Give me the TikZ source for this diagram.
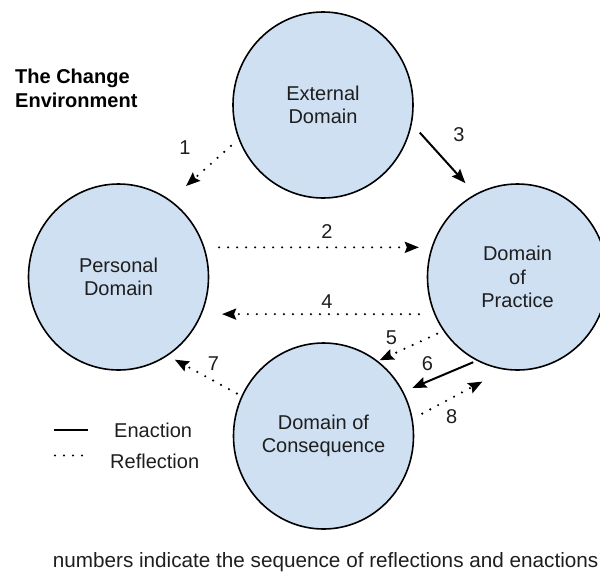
\documentclass[tikz,border=0pt]{standalone}
\usepackage{fontspec}
\setmainfont{Liberation Sans}
\usepackage{tikz}
\usetikzlibrary{shapes.geometric, arrows.meta}
\definecolor{domainfill}{RGB}{207,224,243}
\definecolor{ink}{RGB}{30,30,30}
\tikzstyle{domainbox} = [ellipse, minimum width=180pt, minimum height=186pt, inner sep=0pt, draw=black, line width=1.6pt, fill=domainfill, text=ink, align=center, font=\fontsize{20}{23.5}\selectfont]
\tikzstyle{num} = [inner sep=0pt, text=ink, font=\fontsize{20}{23.5}\selectfont]
\tikzstyle{enaction} = [line width=2pt, -{Stealth[length=14pt,width=11pt,inset=2pt]}]
\tikzstyle{reflection} = [line width=2.4pt, line cap=round, dash pattern=on 0pt off 9pt, -{Stealth[length=14pt,width=11pt,inset=2pt]}]

\begin{document}
\begin{tikzpicture}[x=1pt, y=-1pt]
   \useasboundingbox (0,0) rectangle (600,571);
   \clip (0,0) rectangle (600,571);
   % the four domains
   \node (ext) [domainbox] at (323,105) {External\\Domain};
   \node (pd) [domainbox] at (118.5,277) {Personal\\Domain};
   \node (dp) [domainbox] at (517.5,277) {Domain\\of\\Practice};
   \node (dc) [domainbox] at (323.5,436) {Domain of\\Consequence};
   \node (title) [anchor=west, align=left, inner sep=0pt, font=\bfseries\fontsize{20}{23.5}\selectfont] at (15,88.3) {The Change\\Environment};
   % reflections and enactions
   \draw [reflection, shorten <=10pt, shorten >=21pt] (ext.202) -- (pd.56);
   \draw [reflection, shorten <=14.5pt, shorten >=12.5pt] (pd.19) -- (dp.161);
   \draw [enaction, shorten <=11.7pt, shorten >=14.7pt] (ext.348) -- (dp.117);
   \draw [reflection, shorten <=15.2pt, shorten >=20.2pt] (dp.204) -- (pd.336);
   \draw [reflection, shorten <=6.7pt, shorten >=1.8pt] (dp.216) -- (dc.54);
   \draw [enaction, shorten <=3.7pt, shorten >=9.6pt] (dp.244) -- (dc.29);
   \draw [reflection, shorten <=5.2pt, shorten >=8pt] (dc.154) -- (pd.302);
   \draw [reflection, shorten <=10.8pt, shorten >=25pt] (dc.11) -- (dp.262);
   \node (n1) [num] at (185,147.5) {1};
   \node (n2) [num] at (327,232) {2};
   \node (n3) [num] at (459,135) {3};
   \node (n4) [num] at (327,302) {4};
   \node (n5) [num] at (391.5,338) {5};
   \node (n6) [num] at (427.5,364) {6};
   \node (n7) [num] at (213.5,364) {7};
   \node (n8) [num] at (451.6,417) {8};
   % legend
   \node (lgen) [num, anchor=west] at (114,430) {Enaction};
   \node (lgre) [num, anchor=west] at (110,461) {Reflection};
   \draw [line width=2pt] ([xshift=-26pt]lgen.west) -- ++(-34,0);
   \draw [reflection, -] ([xshift=-28pt, yshift=5.5pt]lgre.west) -- ++(-28,0);
   \node (note) [anchor=base, inner sep=0pt, text=ink, font=\fontsize{20.7}{24}\selectfont] at (325.6,567.3) {numbers indicate the sequence of reflections and enactions};
\end{tikzpicture}
\end{document}
